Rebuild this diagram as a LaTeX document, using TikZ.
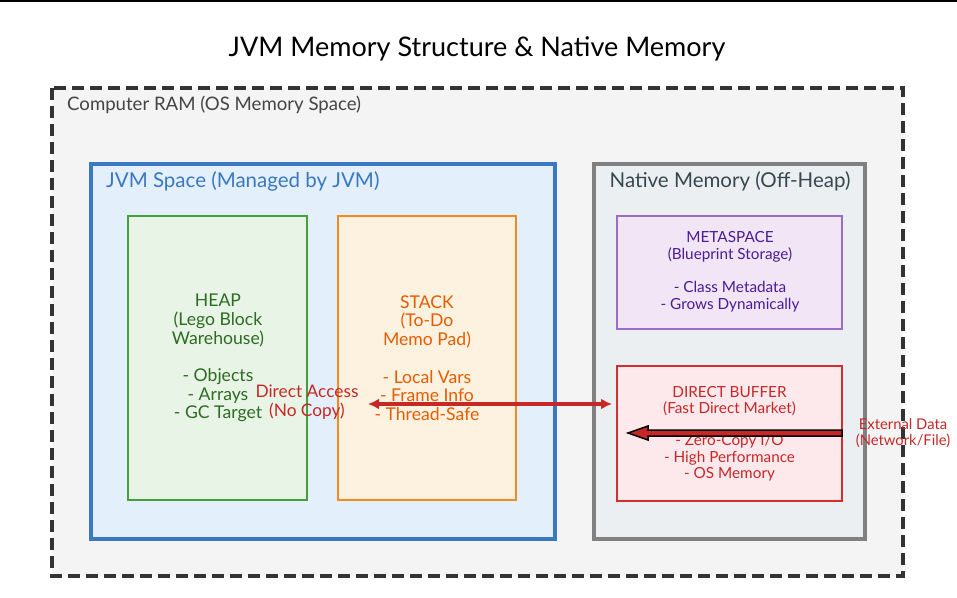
\documentclass[tikz,border=0pt]{standalone}
\usepackage{fontspec}
\setmainfont{Lato}
\usetikzlibrary{arrows.meta,calc}
\definecolor{ramfill}{HTML}{F4F4F4}
\definecolor{ramdraw}{HTML}{333333}
\definecolor{ramtext}{HTML}{444444}
\definecolor{jvmdraw}{HTML}{3A78C0}
\definecolor{jvmfill}{HTML}{E3EFFB}
\definecolor{natdraw}{HTML}{808080}
\definecolor{natfill}{HTML}{ECEFF1}
\definecolor{nattext}{HTML}{37474F}
\definecolor{heapdraw}{HTML}{43A03A}
\definecolor{heapfill}{HTML}{E8F4E6}
\definecolor{heaptext}{HTML}{2E6B23}
\definecolor{stackdraw}{HTML}{F5891F}
\definecolor{stackfill}{HTML}{FDF2E0}
\definecolor{stacktext}{HTML}{E65C00}
\definecolor{metadraw}{HTML}{9C6CC8}
\definecolor{metafill}{HTML}{F2E5F5}
\definecolor{metatext}{HTML}{4A1C96}
\definecolor{bufdraw}{HTML}{D32F2F}
\definecolor{buffill}{HTML}{FDE9EC}
\definecolor{buftext}{HTML}{C62828}
\definecolor{arrowred}{HTML}{C62828}
\tikzset{
  region/.style={line width=3.2pt},
  block/.style={line width=2.4pt, align=center},
  blocktxt/.style={align=center, inner sep=0pt},
}
\begin{document}
\begin{tikzpicture}[x=1pt,y=-1pt]
\useasboundingbox (0,0) rectangle (957,597);
\fill[white] (0,0) rectangle (957,597);
\draw[line width=2pt, black] (0,1) -- (957,1);
% title
\node[text=black, font=\fontsize{27}{31}\selectfont] (title) at (477,49) {JVM Memory Structure \& Native Memory};
% RAM
\draw[region, ramdraw, fill=ramfill, dash pattern=on 12pt off 6pt] (52,88) rectangle (903,576);
\node[anchor=west, text=ramtext, font=\fontsize{18.6}{22}\selectfont, inner sep=0pt] (ram) at (67,105) {Computer RAM (OS Memory Space)};
% JVM space
\draw[region, jvmdraw, fill=jvmfill] (91,164) rectangle (555,539);
\node[anchor=west, text=jvmdraw, font=\fontsize{20.5}{24}\selectfont, inner sep=0pt] (jvm) at (106,181) {JVM Space (Managed by JVM)};
% Native
\draw[region, natdraw, fill=natfill] (594,164) rectangle (865,539);
\node[text=nattext, font=\fontsize{20.5}{24}\selectfont, inner sep=0pt] (nat) at (730,181) {Native Memory (Off-Heap)};
% heap
\draw[block, heapdraw, fill=heapfill] (128,216) rectangle (307,500);
\node[blocktxt, text=heaptext, font=\fontsize{17.6}{18.7}\selectfont] (heap) at (218,358)
 {HEAP\\(Lego Block\\Warehouse)\\[\baselineskip]- Objects\\- Arrays\\- GC Target};
% stack
\draw[block, stackdraw, fill=stackfill] (338,216) rectangle (516,500);
\node[blocktxt, text=stacktext, font=\fontsize{17.6}{18.7}\selectfont] (stack) at (427,358)
 {STACK\\(To-Do\\Memo Pad)\\[\baselineskip]- Local Vars\\- Frame Info\\- Thread-Safe};
% metaspace
\draw[block, metadraw, fill=metafill] (617,216) rectangle (842,329);
\node[blocktxt, text=metatext, font=\fontsize{15.3}{16.7}\selectfont] (meta) at (730,272)
 {METASPACE\\(Blueprint Storage)\\[\baselineskip]- Class Metadata\\- Grows Dynamically};
% direct buffer
\draw[block, bufdraw, fill=buffill] (617,366) rectangle (842,501);
\node[blocktxt, text=buftext, font=\fontsize{15.3}{16.2}\selectfont] (buf) at (729.5,433.5)
 {DIRECT BUFFER\\(Fast Direct Market)\\[\baselineskip]- Zero-Copy I/O\\- High Performance\\- OS Memory};
\coordinate (bufwest) at (612,404);
\coordinate (stackin) at (368,404);
\coordinate (bufeast) at (842,433);
\coordinate (bufin) at (628,433);
% direct access arrow
\draw[line width=3.5pt, arrowred, {Latex[length=11pt,width=11pt]}-{Latex[length=11pt,width=11pt]}] (stackin) -- (bufwest);
\node[blocktxt, text=arrowred, font=\fontsize{17.3}{19}\selectfont] (dalabel) at (307,402.5) {Direct Access\\(No Copy)};
% external arrow
\filldraw[draw=black, fill=arrowred, line width=1.5pt, line join=miter]
  ($(bufeast)+(0,-3)$) -- (648,430) -- (648,426) -- (bufin) -- (648,440) -- (648,436) -- ($(bufeast)+(0,3)$) -- cycle;
\node[blocktxt, text=buftext, font=\fontsize{14.8}{16.5}\selectfont] (ext) at (903,433) {External Data\\(Network/File)};
\end{tikzpicture}
\end{document}
